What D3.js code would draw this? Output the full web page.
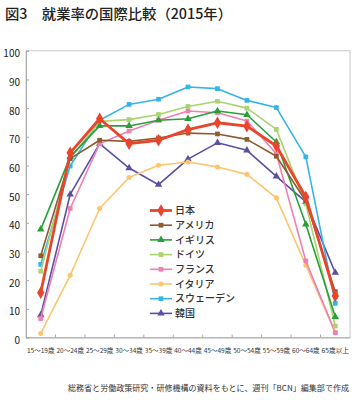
<!DOCTYPE html>
<html><head><meta charset="utf-8">
<script src="https://cdn.jsdelivr.net/npm/d3@7"></script>
<style>
html,body{margin:0;padding:0;background:#fff;}
svg{display:block;}
text{font-family:"Noto Sans CJK JP","Noto Sans",sans-serif;}
</style></head>
<body><svg id="c" width="355" height="400"></svg>
<script>
const categories = ["15～19歳","20～24歳","25～29歳","30～34歳","35～39歳","40～44歳","45～49歳","50～54歳","55～59歳","60～64歳","65歳以上"];
const yTicks = [0,10,20,30,40,50,60,70,80,90,100];
const seriesNames = ["日本","アメリカ","イギリス","ドイツ","フランス","イタリア","スウェーデン","韓国"];
const japan   = [15.6,64.4,76.3,67.6,68.8,72.5,74.9,73.7,66.8,49.0,14.5];
const usa     = [28.5,62.4,68.8,68.4,69.6,71.3,71.0,69.1,63.2,47.6,16.0];
const uk      = [37.7,63.0,73.8,73.8,75.8,76.3,79.0,77.7,68.2,39.5,7.2];
const germany = [23.1,62.4,75.4,76.0,77.8,80.6,82.4,80.0,72.6,46.6,4.0];
const france  = [6.6,45.0,67.6,72.0,75.8,79.0,78.4,75.5,64.1,26.7,1.7];
const italy   = [1.4,21.7,45.0,55.8,60.1,61.2,59.5,56.9,48.7,25.2,1.7];
const sweden  = [25.5,59.8,75.8,81.3,83.1,87.4,86.8,82.7,80.2,63.0,11.9];
const korea   = [7.8,49.9,67.6,59.1,53.3,62.2,67.9,65.3,56.2,47.3,22.6];
const titleText = "図3　就業率の国際比較（2015年）";
const sourceText = "総務省と労働政策研究・研修機構の資料をもとに、週刊「BCN」編集部で作成";

const seriesValues = [japan,usa,uk,germany,france,italy,sweden,korea];
const colors = ["#e8452c","#8d5b2f","#27a03a","#a9d46e","#f07fb2","#fbc66e","#34b5ea","#5a4fa3"];
const shapes = [d3.symbolDiamond,d3.symbolSquare,d3.symbolTriangle,d3.symbolSquare,d3.symbolSquare,d3.symbolCircle,d3.symbolSquare,d3.symbolTriangle];
const sizes = [46,22,24,22,22,20,22,24];
const widths = [2.8,1.6,1.6,1.6,1.6,1.6,1.6,1.6];

const svg = d3.select("#c");
const L=26,R=350,T=50.8,B=337.5;
const x = d3.scaleBand().domain(categories).range([L,R]).padding(0);
const y = d3.scaleLinear().domain([0,100]).range([B,T]);

// title
svg.append("text").attr("x",5).attr("y",19).attr("font-size",14).attr("font-weight",500)
  .attr("fill","#222").attr("textLength",227).attr("lengthAdjust","spacingAndGlyphs").text(titleText);

// frame
svg.append("rect").attr("x",L).attr("y",T).attr("width",R-L).attr("height",B-T)
  .attr("fill","none").attr("stroke","#c8c8c8").attr("stroke-width",1);

// y axis
const ya = svg.append("g").attr("transform",`translate(${L},0)`)
  .call(d3.axisLeft(y).tickValues(yTicks).tickSize(-3).tickPadding(6));
ya.select(".domain").attr("stroke","#aaa");
ya.selectAll(".tick line").attr("stroke","#aaa");
ya.selectAll("text").attr("font-family","'Liberation Sans',Arial,sans-serif").attr("font-size",10).attr("fill","#222").attr("dy","0.6em");

// x axis
const xa = svg.append("g").attr("transform",`translate(0,${B})`)
  .call(d3.axisBottom(x).tickSize(0).tickPadding(11));
xa.select(".domain").attr("stroke","#aaa");
xa.selectAll("text").attr("font-size",6.4).attr("fill","#333").attr("textLength",27.5).attr("lengthAdjust","spacingAndGlyphs");
// boundary ticks
const bounds = categories.slice(1).map(c=>x(c));
svg.append("g").selectAll("line").data(bounds).join("line")
  .attr("x1",d=>d).attr("x2",d=>d).attr("y1",B).attr("y2",B-3).attr("stroke","#aaa");

// lines
const line = d3.line().x((d,i)=>x(categories[i])+x.bandwidth()/2).y(d=>y(d));
const order = [7,6,5,4,3,2,1,0];
order.forEach(k=>{
  const g = svg.append("g");
  g.append("path").datum(seriesValues[k]).attr("d",line).attr("fill","none")
    .attr("stroke",colors[k]).attr("stroke-width",widths[k]).attr("stroke-linejoin","round");
  g.selectAll("path.m").data(seriesValues[k]).join("path").attr("class","m")
    .attr("transform",(d,i)=>`translate(${x(categories[i])+x.bandwidth()/2},${y(d)})`)
    .attr("d",d3.symbol().type(shapes[k]).size(sizes[k])).attr("fill",colors[k]);
});

// legend
const lg = svg.append("g");
seriesNames.forEach((n,k)=>{
  const yy = 210.5 + k*14.7;
  lg.append("line").attr("x1",150).attr("x2",172).attr("y1",yy).attr("y2",yy)
    .attr("stroke",colors[k]).attr("stroke-width",widths[k]);
  lg.append("path").attr("transform",`translate(161,${yy})`)
    .attr("d",d3.symbol().type(shapes[k]).size(sizes[k])).attr("fill",colors[k]);
  lg.append("text").attr("x",175).attr("y",yy).attr("dy","0.36em").attr("font-size",10)
    .attr("fill","#333").attr("font-weight",500).text(n);
});

// source
svg.append("text").attr("x",349).attr("y",391).attr("text-anchor","end").attr("font-size",8)
  .attr("fill","#333").attr("textLength",281).attr("lengthAdjust","spacingAndGlyphs").text(sourceText);
</script></body></html>
